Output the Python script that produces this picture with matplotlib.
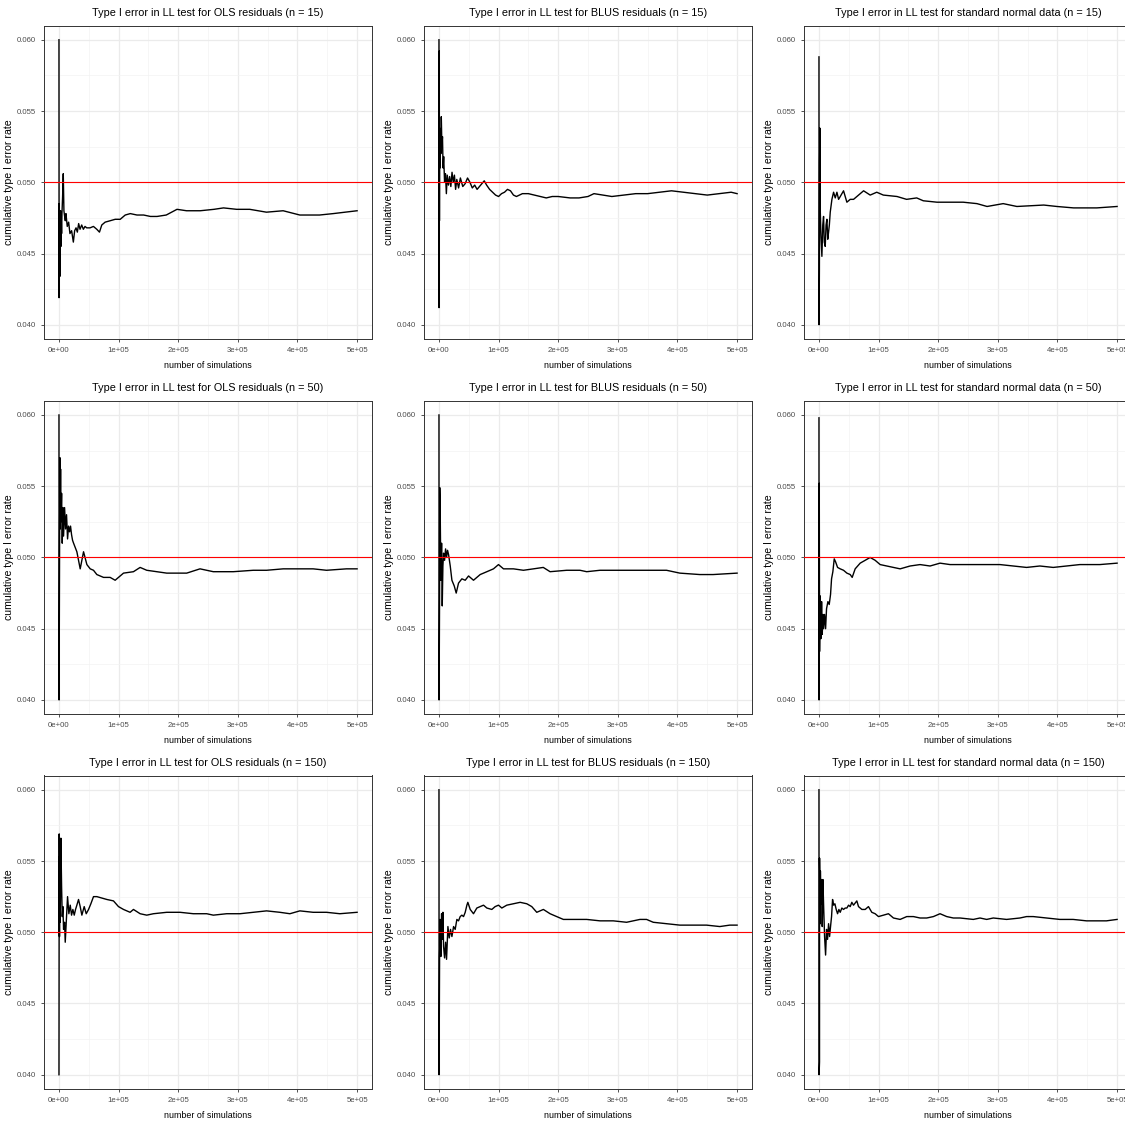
import matplotlib
matplotlib.use("Agg")
import matplotlib.pyplot as plt
import numpy as np

plt.rcParams['font.family'] = ['Liberation Sans', 'DejaVu Sans']

# --- data (x in thousands of simulations, y = cumulative type I error rate) ---
ols15_k = [0.1, 0.3, 0.6, 1.0, 1.7, 2.3, 2.8, 3.4, 3.9, 4.5, 5.1, 6.2, 7.3, 8.4, 9.6, 10.7, 11.8, 14.0, 16.3, 18.5,
           21.3, 24.2, 26.4, 28.7, 30.9, 33.1, 35.4, 38.2, 41.0, 43.8, 46.6, 52.2, 57.9, 63.5, 68.0, 71.9, 77.5, 86.0, 94.4, 102.8,
           111.2, 119.7, 130.9, 142.1, 153.4, 164.6, 180, 198, 214, 237, 260, 276, 298, 320, 348, 376, 404, 437, 460, 480, 500]
ols15_y = [0.0600, 0.0419, 0.0485, 0.0462, 0.0434, 0.0470, 0.0480, 0.0455, 0.0475, 0.0464, 0.0478, 0.0490, 0.0506, 0.0480, 0.0476, 0.0473, 0.0478, 0.0469, 0.0472, 0.0464,
           0.0466, 0.0458, 0.0466, 0.0468, 0.0465, 0.0471, 0.0467, 0.0470, 0.0467, 0.0469, 0.0468, 0.0468, 0.0469, 0.0467, 0.0465, 0.0470, 0.0472, 0.0473, 0.0474, 0.0474,
           0.0477, 0.0478, 0.0477, 0.0477, 0.0476, 0.0476, 0.0477, 0.0481, 0.0480, 0.0480, 0.0481, 0.0482, 0.0481, 0.0481, 0.0479, 0.0480, 0.0477, 0.0477, 0.0478, 0.0479, 0.0480]

blus15_k = [0.1, 0.3, 0.6, 0.9, 1.3, 1.8, 2.5, 3.2, 4.0, 5.0, 6, 7, 8, 9.5, 11, 12.5, 14, 16, 18, 20,
            22, 24, 26, 28, 30, 33, 36, 40, 44, 48, 52, 56, 60, 64, 68, 72, 76, 80, 85, 90,
            95, 100, 105, 110, 115, 120, 125, 130, 140, 150, 160, 170, 180, 190, 200, 220, 235, 250, 260, 275,
            290, 310, 330, 350, 370, 390, 410, 430, 450, 470, 490, 500]
blus15_y = [0.060, 0.0412, 0.0592, 0.0473, 0.0538, 0.0510, 0.0535, 0.0520, 0.0546, 0.0525, 0.0532, 0.0510, 0.0518, 0.0500, 0.0506, 0.0492, 0.0505, 0.0498, 0.0504, 0.0497,
            0.0507, 0.0500, 0.0505, 0.0495, 0.0502, 0.0496, 0.0503, 0.0497, 0.0499, 0.0503, 0.0500, 0.0496, 0.0498, 0.0495, 0.0497, 0.0499, 0.0501, 0.0498, 0.0495, 0.0493,
            0.0491, 0.0490, 0.0492, 0.0493, 0.0495, 0.0494, 0.0491, 0.0490, 0.0492, 0.0492, 0.0491, 0.0490, 0.0489, 0.0490, 0.0490, 0.0489, 0.0489, 0.0490, 0.0492, 0.0491,
            0.0490, 0.0491, 0.0492, 0.0492, 0.0493, 0.0494, 0.0493, 0.0492, 0.0491, 0.0492, 0.0493, 0.0492]

std15_k = [0.1, 0.3, 0.8, 1.2, 1.6, 2.2, 3.5, 5.0, 6.5, 7.8, 9.0, 10.6, 12.0, 13.4, 14.8, 16.2, 17.5, 19.0, 21.8, 24.6,
           27.4, 30.2, 33.0, 35.8, 41.3, 46.9, 52.5, 58.1, 63.7, 74.9, 86, 97, 108, 131, 147, 164, 175, 198, 242, 265,
           282, 309, 332, 377, 399, 427, 466, 500]
std15_y = [0.0588, 0.0400, 0.0439, 0.0514, 0.0538, 0.0481, 0.0462, 0.0448, 0.0470, 0.0476, 0.0458, 0.0455, 0.0470, 0.0474, 0.0460, 0.0465, 0.0470, 0.0479, 0.0488, 0.0493,
           0.0489, 0.0493, 0.0488, 0.0490, 0.0494, 0.0486, 0.0488, 0.0488, 0.0490, 0.0494, 0.0491, 0.0493, 0.0491, 0.0490, 0.0488, 0.0489, 0.0487, 0.0486, 0.0486, 0.0485,
           0.0483, 0.0485, 0.0483, 0.0484, 0.0483, 0.0482, 0.0482, 0.0483]

ols50_k = [0.1, 0.3, 1.1, 1.7, 2.2, 2.8, 3.3, 4.5, 5.6, 6.7, 7.8, 9.5, 11.2, 12.8, 14.5, 16.2, 17.9, 19.5, 21.2, 22.9,
           24.6, 30.1, 35.7, 41.3, 46.9, 52.5, 58.0, 63.6, 74.8, 85.9, 94.3, 99.9, 108.3, 125, 136.2, 147.3, 164.1, 180.8, 203.1, 214.3,
           236.6, 258.9, 292.4, 325.9, 348.2, 376.1, 404, 426.3, 448.7, 482.1, 500]
ols50_y = [0.060, 0.040, 0.0508, 0.0570, 0.0520, 0.0562, 0.0525, 0.0545, 0.0510, 0.0535, 0.0515, 0.0535, 0.0520, 0.0530, 0.0513, 0.0522, 0.0518, 0.0522, 0.0516, 0.0512,
           0.0510, 0.0504, 0.0492, 0.0504, 0.0495, 0.0492, 0.0491, 0.0488, 0.0486, 0.0486, 0.0484, 0.0486, 0.0489, 0.0490, 0.0493, 0.0491, 0.0490, 0.0489, 0.0489, 0.0489,
           0.0492, 0.0490, 0.0490, 0.0491, 0.0491, 0.0492, 0.0492, 0.0492, 0.0491, 0.0492, 0.0492]

blus50_k = [0.1, 0.3, 1.1, 1.4, 2.2, 3.3, 4.5, 5.6, 6.7, 7.8, 9.5, 11.2, 12.8, 14.5, 16.2, 19.0, 21.8, 25.7, 29.0, 32.9,
            38.5, 44.1, 49.7, 58.0, 69.2, 80.4, 91.5, 99.9, 108.3, 125, 141.7, 158.5, 175, 186.4, 214.3, 236.6, 247.8, 270.1, 292.4, 325.9,
            359.4, 381.7, 404, 437.5, 459.8, 500]
blus50_y = [0.060, 0.040, 0.0475, 0.0549, 0.0531, 0.0484, 0.0510, 0.0466, 0.0494, 0.0503, 0.0498, 0.0506, 0.0500, 0.0505, 0.0502, 0.0494, 0.0484, 0.0480, 0.0475, 0.0482,
            0.0485, 0.0484, 0.0487, 0.0484, 0.0488, 0.0490, 0.0492, 0.0495, 0.0492, 0.0492, 0.0491, 0.0492, 0.0493, 0.0490, 0.0491, 0.0491, 0.0490, 0.0491, 0.0491, 0.0491,
            0.0491, 0.0491, 0.0489, 0.0488, 0.0488, 0.0489]

std50_k = [0.1, 0.3, 0.6, 1.1, 2.2, 3.3, 4.5, 5.6, 6.7, 7.8, 9.5, 11.2, 12.8, 15.1, 17.3, 19.5, 21.2, 23.4, 25.7, 27.9,
           31.3, 35.7, 41.3, 46.9, 52.5, 55.8, 60.8, 69.2, 77.6, 85.9, 94.3, 102.7, 113.8, 125, 136.2, 152.9, 169.6, 186.4, 203.1, 219.9,
           247.8, 281.3, 303.6, 325.9, 348.2, 370.5, 392.9, 415.2, 437.5, 471, 500]
std50_y = [0.0598, 0.040, 0.0552, 0.0434, 0.0473, 0.0443, 0.0469, 0.0446, 0.0460, 0.0450, 0.0460, 0.0450, 0.0464, 0.0469, 0.0467, 0.0474, 0.0485, 0.0490, 0.0499, 0.0497,
           0.0493, 0.0492, 0.0491, 0.0489, 0.0488, 0.0486, 0.0492, 0.0496, 0.0498, 0.0500, 0.0498, 0.0495, 0.0494, 0.0493, 0.0492, 0.0494, 0.0495, 0.0494, 0.0496, 0.0495,
           0.0495, 0.0495, 0.0495, 0.0494, 0.0493, 0.0494, 0.0493, 0.0494, 0.0495, 0.0495, 0.0496]

ols150_k = [0.1, 0.5, 1.0, 1.1, 2.2, 3.3, 4.5, 5.6, 6.7, 7.8, 9.5, 10.6, 12.3, 14.5, 16.7, 19.0, 21.2, 23.4, 25.7, 27.9,
            30.1, 32.9, 35.7, 38.5, 42.4, 45.8, 49.7, 53.6, 58.0, 63.6, 72.0, 80.4, 91.5, 99.9, 108.3, 119.4, 125, 136.2, 147.3, 158.5,
            180.8, 203.1, 225.4, 247.8, 258.9, 281.3, 303.6, 325.9, 348.2, 370.5, 387.3, 404, 426.3, 448.7, 471, 500]
ols150_y = [0.040, 0.0569, 0.0497, 0.0553, 0.0507, 0.0566, 0.0532, 0.0511, 0.0518, 0.0502, 0.0507, 0.0493, 0.0507, 0.0525, 0.0513, 0.0519, 0.0512, 0.0516, 0.0512, 0.0516,
            0.0519, 0.0523, 0.0518, 0.0512, 0.0518, 0.0513, 0.0516, 0.0520, 0.0525, 0.0525, 0.0524, 0.0523, 0.0522, 0.0518, 0.0516, 0.0514, 0.0516, 0.0513, 0.0512, 0.0513,
            0.0514, 0.0514, 0.0513, 0.0513, 0.0512, 0.0513, 0.0513, 0.0514, 0.0515, 0.0514, 0.0513, 0.0515, 0.0514, 0.0514, 0.0513, 0.0514]

blus150_k = [0.1, 0.3, 0.6, 1.1, 2.2, 2.8, 3.3, 4.5, 5.6, 6.7, 7.8, 9.5, 11.2, 12.8, 15.1, 17.3, 19.5, 21.8, 24.6, 27.3,
             30.1, 32.9, 35.7, 38.5, 41.3, 44.1, 46.9, 48.5, 52.5, 58.0, 63.6, 69.2, 74.8, 80.4, 88.7, 94.3, 99.9, 105.5, 113.8, 125,
             136.2, 147.3, 155.7, 164.1, 175.2, 186.4, 197.5, 208.7, 225.4, 247.8, 270.1, 292.4, 314.7, 337.1, 348.2, 359.4, 381.7, 404, 426.3, 448.7,
             471, 487.7, 500]
blus150_y = [0.060, 0.040, 0.0432, 0.0483, 0.0509, 0.0490, 0.0483, 0.0513, 0.0495, 0.0514, 0.0490, 0.0482, 0.0493, 0.0481, 0.0504, 0.0496, 0.0502, 0.0497, 0.0504, 0.0502,
             0.0509, 0.0508, 0.0511, 0.0512, 0.0511, 0.0514, 0.0519, 0.0521, 0.0516, 0.0513, 0.0517, 0.0518, 0.0519, 0.0517, 0.0516, 0.0518, 0.0519, 0.0517, 0.0519, 0.0520,
             0.0521, 0.0520, 0.0518, 0.0514, 0.0516, 0.0513, 0.0511, 0.0509, 0.0509, 0.0509, 0.0508, 0.0508, 0.0507, 0.0509, 0.0509, 0.0507, 0.0506, 0.0505, 0.0505, 0.0505,
             0.0504, 0.0505, 0.0505]

std150_k = [0.1, 0.3, 1.0, 1.1, 2.2, 2.5, 3.3, 4.5, 5.6, 6.7, 7.8, 9.5, 11.2, 12.8, 14.5, 16.2, 17.9, 19.5, 21.2, 22.9,
            24.6, 26.8, 29.0, 31.3, 33.5, 35.7, 38.5, 41.3, 44.1, 46.9, 49.7, 52.5, 55.2, 58.0, 63.6, 66.4, 72.0, 77.6, 83.1, 88.7,
            94.3, 99.9, 108.3, 116.6, 125, 136.2, 147.3, 158.5, 169.6, 180.8, 192, 203.1, 214.3, 225.4, 236.6, 258.9, 270.1, 281.3, 292.4, 314.7,
            337.1, 348.2, 359.4, 381.7, 404, 426.3, 448.7, 482.1, 500]
std150_y = [0.060, 0.040, 0.0409, 0.0552, 0.0506, 0.0543, 0.0520, 0.0537, 0.0504, 0.0537, 0.0520, 0.0497, 0.0484, 0.0502, 0.0495, 0.0506, 0.0497, 0.0504, 0.0511, 0.0523,
            0.0519, 0.0520, 0.0516, 0.0513, 0.0516, 0.0514, 0.0517, 0.0516, 0.0517, 0.0517, 0.0519, 0.0518, 0.0521, 0.0519, 0.0522, 0.0518, 0.0516, 0.0516, 0.0518, 0.0514,
            0.0513, 0.0511, 0.0512, 0.0513, 0.0510, 0.0509, 0.0511, 0.0511, 0.0510, 0.0510, 0.0511, 0.0513, 0.0511, 0.0510, 0.0510, 0.0509, 0.0510, 0.0509, 0.0510, 0.0509,
            0.0510, 0.0511, 0.0511, 0.0510, 0.0509, 0.0509, 0.0508, 0.0508, 0.0509]

titles = [
    "Type I error in LL test for OLS residuals (n = 15)",
    "Type I error in LL test for BLUS residuals (n = 15)",
    "Type I error in LL test for standard normal data (n = 15)",
    "Type I error in LL test for OLS residuals (n = 50)",
    "Type I error in LL test for BLUS residuals (n = 50)",
    "Type I error in LL test for standard normal data (n = 50)",
    "Type I error in LL test for OLS residuals (n = 150)",
    "Type I error in LL test for BLUS residuals (n = 150)",
    "Type I error in LL test for standard normal data (n = 150)",
]
series = [(ols15_k, ols15_y), (blus15_k, blus15_y), (std15_k, std15_y),
          (ols50_k, ols50_y), (blus50_k, blus50_y), (std50_k, std50_y),
          (ols150_k, ols150_y), (blus150_k, blus150_y), (std150_k, std150_y)]

x_ticks = [0, 100000, 200000, 300000, 400000, 500000]
x_ticklabels = ["0e+00", "1e+05", "2e+05", "3e+05", "4e+05", "5e+05"]
y_ticks = [0.040, 0.045, 0.050, 0.055, 0.060]
alpha_level = 0.05

W, H = 1125, 1122
fig = plt.figure(figsize=(W / 100, H / 100), dpi=100)

col_left = [44, 424, 804]
row_top = [25.5, 400.7, 775.5]
aw, ah = 328, 313.5

for i, (title, (xk, yv)) in enumerate(zip(titles, series)):
    r, c = divmod(i, 3)
    ax = fig.add_axes([col_left[c] / W, 1 - (row_top[r] + ah) / H, aw / W, ah / H])
    x = np.array(xk) * 1000

    ax.set_xlim(-25000, 525000)
    ax.set_ylim(0.039, 0.061)
    ax.set_xticks(x_ticks)
    ax.set_xticklabels(x_ticklabels)
    ax.set_yticks(y_ticks)
    ax.set_yticklabels(["%.3f" % v for v in y_ticks])
    ax.set_xticks(np.arange(50000, 500000, 100000), minor=True)
    ax.set_yticks(np.arange(0.0425, 0.06, 0.005), minor=True)
    ax.grid(which='major', color='#EBEBEB', lw=0.9)
    ax.grid(which='minor', color='#F3F3F3', lw=0.5)
    ax.set_axisbelow(True)

    ax.plot(x, yv, color='black', lw=1.0, zorder=3)
    ax.axhline(alpha_level, color='#FF0000', lw=0.8, zorder=4)

    ax.tick_params(which='major', length=2.5, width=0.6, color='#333333',
                   labelsize=5.6, labelcolor='#4D4D4D', pad=3)
    ax.tick_params(which='minor', length=0)
    for s in ax.spines.values():
        s.set_color('#333333')
        s.set_linewidth(0.7)

    ax.set_title(title, fontsize=7.8, pad=7, color='black')
    ax.set_xlabel("number of simulations", fontsize=6.4, labelpad=5)
    ax.set_ylabel("cumulative type I error rate", fontsize=7.6)
    ax.yaxis.set_label_coords(-0.09, 0.5)

fig.savefig("out.png", dpi=100)
